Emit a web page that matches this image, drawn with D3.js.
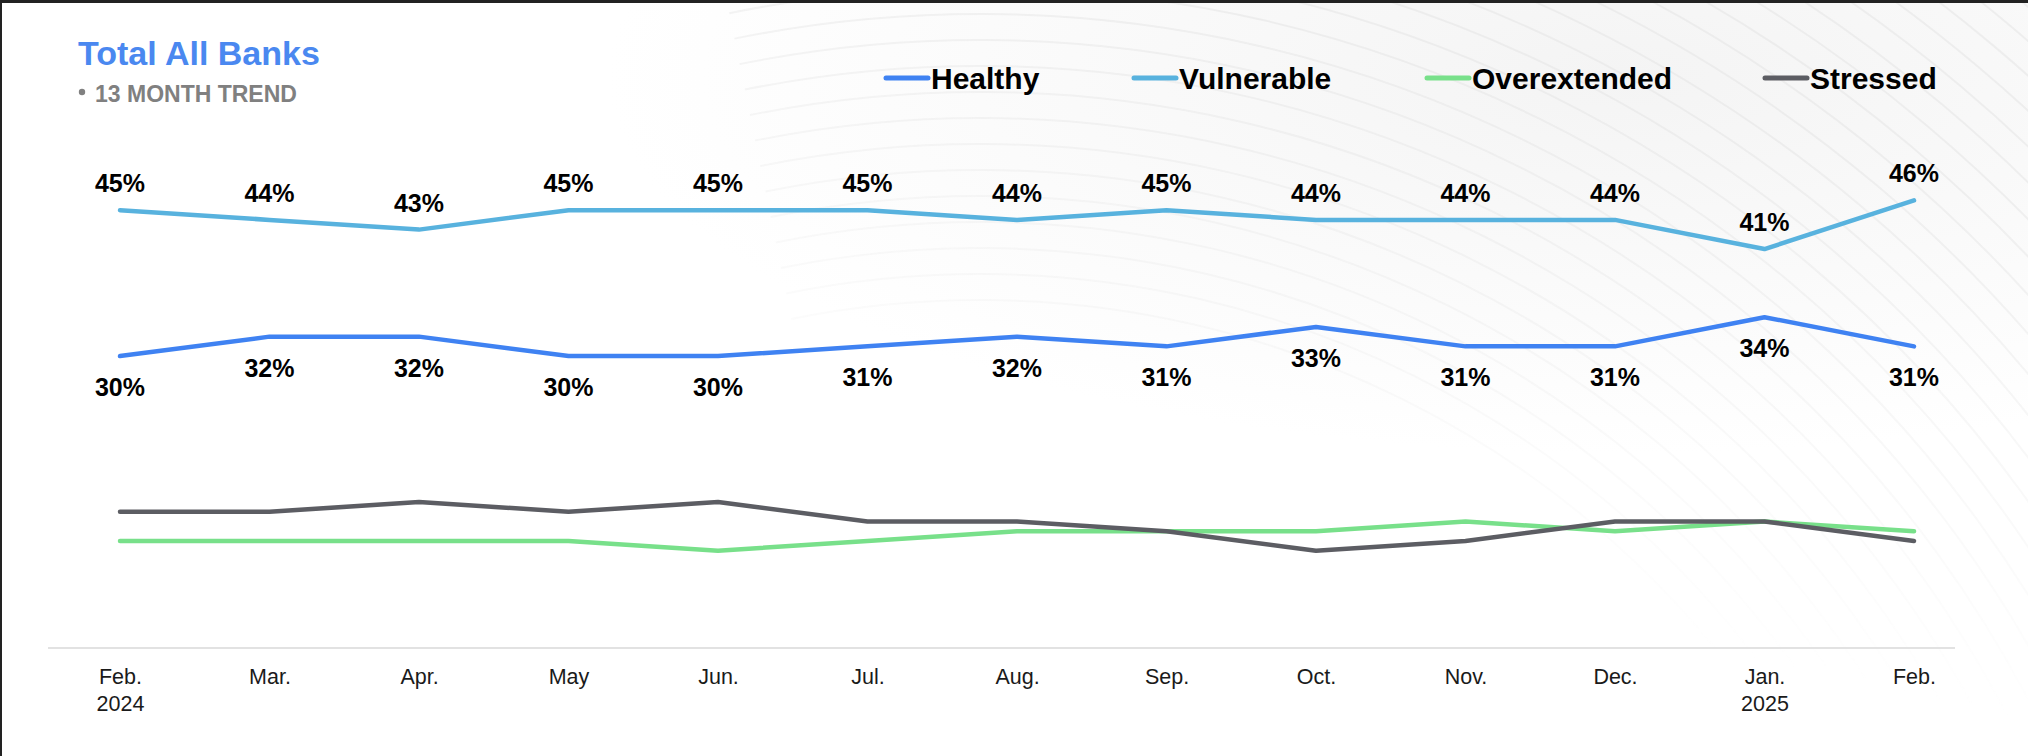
<!DOCTYPE html>
<html>
<head>
<meta charset="utf-8">
<script src="https://cdn.jsdelivr.net/npm/d3@7"></script>
<style>
  body { margin: 0; background: #fff; }
  svg { display: block; font-family: Arial, "Liberation Sans", sans-serif; }
</style>
</head>
<body>
<svg id="chart" width="2028" height="756"></svg>
<script>
// 13 month trend, share of accounts per health bucket (%)
const months = ['Feb.', 'Mar.', 'Apr.', 'May', 'Jun.', 'Jul.', 'Aug.', 'Sep.', 'Oct.', 'Nov.', 'Dec.', 'Jan.', 'Feb.'];
const years = ['2024', '', '', '', '', '', '', '', '', '', '', '2025', ''];

const healthy = [30, 32, 32, 30, 30, 31, 32, 31, 33, 31, 31, 34, 31];
const vulnerable = [45, 44, 43, 45, 45, 45, 44, 45, 44, 44, 44, 41, 46];
const overextended = [11, 11, 11, 11, 10, 11, 12, 12, 12, 13, 12, 13, 12];
const stressed = [14, 14, 15, 14, 15, 13, 13, 12, 10, 11, 13, 13, 11];

const seriesNames = ['Healthy', 'Vulnerable', 'Overextended', 'Stressed'];
const seriesColors = ['#3F82F2', '#58B2DE', '#78E08A', '#5C5D63'];

const WIDTH = 2028, HEIGHT = 756;
const svg = d3.select('#chart');

// faint decorative background (soft grey glow + swirl arcs, top right)
const defs = svg.append('defs');
const grad = defs.append('radialGradient').attr('id', 'bgGrad')
    .attr('cx', '0.8').attr('cy', '0.1').attr('r', '0.5');
grad.append('stop').attr('offset', '0').attr('stop-color', '#f4f4f4');
grad.append('stop').attr('offset', '1').attr('stop-color', '#ffffff');
svg.append('rect').attr('width', WIDTH).attr('height', HEIGHT).attr('fill', 'url(#bgGrad)');

const fade = defs.append('linearGradient').attr('id', 'fade')
    .attr('x1', '0.3').attr('y1', '0.9').attr('x2', '0.85').attr('y2', '0');
fade.append('stop').attr('offset', '0.3').attr('stop-color', '#fff').attr('stop-opacity', 0);
fade.append('stop').attr('offset', '0.85').attr('stop-color', '#fff').attr('stop-opacity', 1);
defs.append('mask').attr('id', 'swirlMask')
    .append('rect').attr('width', WIDTH).attr('height', HEIGHT).attr('fill', 'url(#fade)');

const swirl = svg.append('g').attr('mask', 'url(#swirlMask)')
    .attr('fill', 'none').attr('stroke', '#e4e4e4').attr('stroke-width', 2).attr('opacity', 0.5);
d3.range(950, 1700, 26).forEach(r => {
    swirl.append('path')
        .attr('transform', 'translate(980,1250)')
        .attr('d', d3.arc()({ innerRadius: r, outerRadius: r, startAngle: -0.2, endAngle: 1.6 }));
});

// frame
svg.append('rect').attr('x', 0).attr('y', 0).attr('width', WIDTH).attr('height', 3).attr('fill', '#222');
svg.append('rect').attr('x', 0).attr('y', 0).attr('width', 2).attr('height', HEIGHT).attr('fill', '#222');

// title
svg.append('text').attr('x', 78).attr('y', 65)
    .attr('font-size', 34).attr('font-weight', 'bold').attr('fill', '#4A88F0')
    .text('Total All Banks');
svg.append('circle').attr('cx', 82).attr('cy', 92).attr('r', 3.2).attr('fill', '#808080');
svg.append('text').attr('x', 95).attr('y', 102)
    .attr('font-size', 23).attr('font-weight', 'bold').attr('fill', '#808080')
    .text('13 MONTH TREND');

// scales
const xScale = d3.scalePoint()
    .domain(d3.range(months.length))
    .range([120, 1914]);
const yScale = d3.scaleLinear()
    .domain([0, 50])
    .range([648, 648 - 50 * 9.73]);

// x axis
const xAxis = svg.append('g')
    .attr('transform', 'translate(0,648)')
    .call(d3.axisBottom(xScale).tickSize(0).tickFormat(''));
xAxis.select('.domain').remove();
svg.append('line')
    .attr('x1', 48).attr('x2', 1955).attr('y1', 648).attr('y2', 648)
    .attr('stroke', '#d9d9d9').attr('stroke-width', 1.5);
xAxis.selectAll('.tick').each(function (d) {
    const t = d3.select(this).append('text')
        .attr('fill', '#1a1a1a').attr('font-size', 21.5).attr('text-anchor', 'middle');
    t.append('tspan').attr('x', 0).attr('y', 36).text(months[d]);
    if (years[d]) t.append('tspan').attr('x', 0).attr('y', 63).text(years[d]);
});

// lines
const allSeries = [healthy, vulnerable, overextended, stressed];
const line = d3.line()
    .x((d, i) => xScale(i))
    .y(d => yScale(d));

svg.append('g').selectAll('path')
    .data(allSeries)
    .join('path')
    .attr('d', d => line(d))
    .attr('fill', 'none')
    .attr('stroke', (d, i) => seriesColors[i])
    .attr('stroke-width', 4.5)
    .attr('stroke-linejoin', 'round')
    .attr('stroke-linecap', 'round');

// data labels (only Healthy & Vulnerable are labelled)
const labels = svg.append('g').attr('font-size', 25).attr('font-weight', 'bold')
    .attr('fill', '#000').attr('text-anchor', 'middle');
labels.selectAll('text.vul')
    .data(vulnerable)
    .join('text').attr('class', 'vul')
    .attr('x', (d, i) => xScale(i))
    .attr('y', d => yScale(d) - 18)
    .text(d => d + '%');
labels.selectAll('text.hea')
    .data(healthy)
    .join('text').attr('class', 'hea')
    .attr('x', (d, i) => xScale(i))
    .attr('y', d => yScale(d) + 40)
    .text(d => d + '%');

// legend
const legendX = [884, 1132, 1425, 1763];
const legend = svg.append('g').selectAll('g')
    .data(seriesNames)
    .join('g')
    .attr('transform', (d, i) => `translate(${legendX[i]},78)`);
legend.append('line')
    .attr('x1', 2).attr('x2', 44).attr('y1', 0).attr('y2', 0)
    .attr('stroke', (d, i) => seriesColors[i])
    .attr('stroke-width', 5).attr('stroke-linecap', 'round');
legend.append('text')
    .attr('x', 47).attr('y', 11)
    .attr('font-size', 30).attr('font-weight', 'bold').attr('fill', '#000')
    .text(d => d);
</script>
</body>
</html>
